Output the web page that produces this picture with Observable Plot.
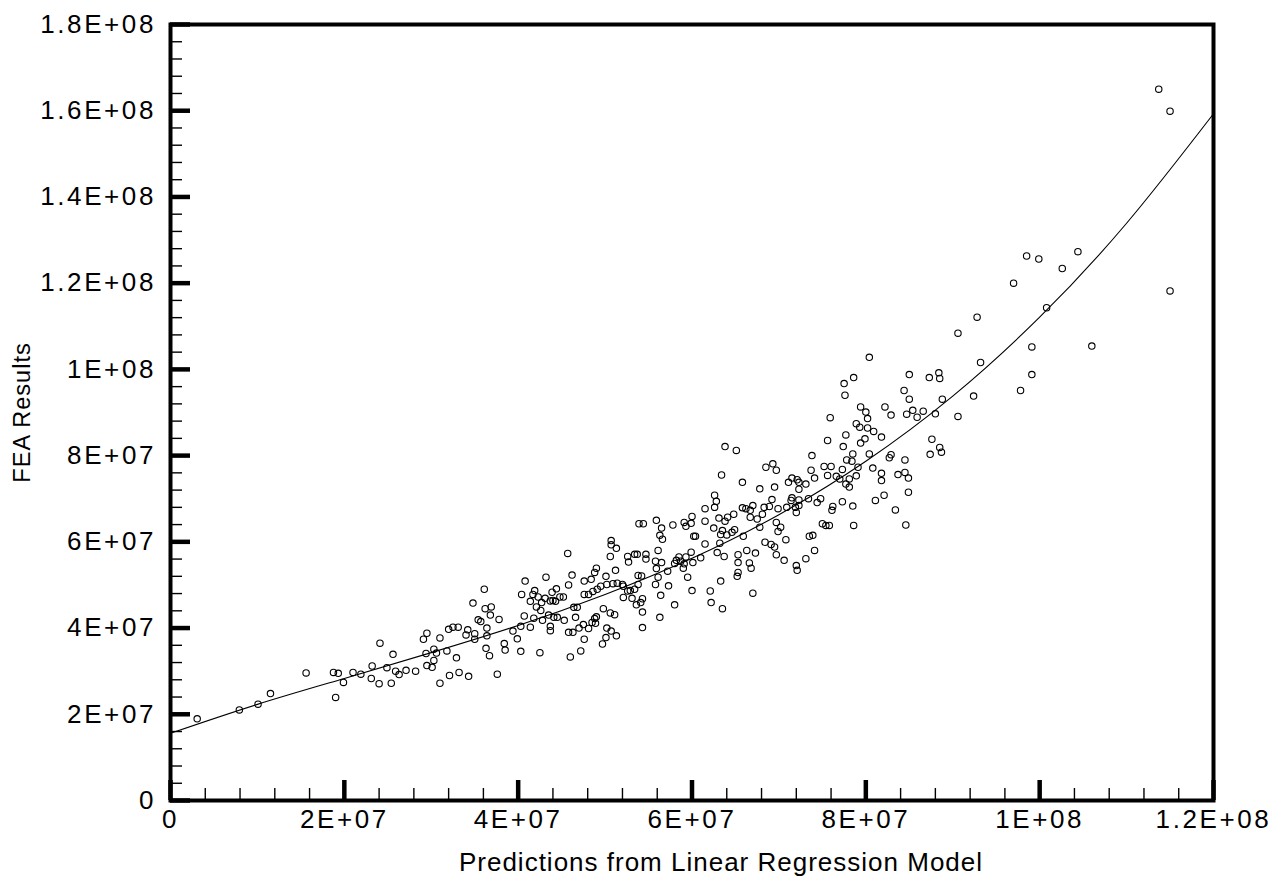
<!DOCTYPE html>
<html><head><meta charset="utf-8">
<script src="https://cdn.jsdelivr.net/npm/d3@7"></script>
<script src="https://cdn.jsdelivr.net/npm/@observablehq/plot@0.6"></script>
<style>
html,body{margin:0;padding:0;background:#fff;}
g[aria-label="x-axis tick label"] text, g[aria-label="y-axis tick label"] text {letter-spacing:2.6px;}
g[aria-label="text"] text {letter-spacing:1px;}
</style></head><body><div id="chart"></div>
<script>
// Values in millions (×1e6)
const pointsM = [
[3.07,18.95],[7.92,21.0],[10.07,22.35],[11.5,24.8],[15.6,29.6],[18.75,29.7],[19.3,29.5],[19.0,23.9],[19.9,27.4],[21.0,29.7],[21.9,29.3],[23.2,31.2],[23.1,28.3],[24.1,36.5],[24.0,27.1],[24.9,30.8],[25.6,33.9],[25.4,27.2],[25.9,30.0],[26.3,29.2],
[27.1,30.2],[28.2,30.0],[29.5,38.8],[29.1,37.4],[31.0,37.7],[30.3,35.1],[29.4,34.1],[30.6,34.2],[30.3,32.5],[29.5,31.3],[30.1,30.9],[31.8,34.7],[32.9,33.1],[31.0,27.2],[32.1,29.0],[33.2,29.7],[34.3,28.8],[32.0,39.7],[32.5,40.2],[33.1,40.2],[34.2,39.6],[34.0,38.4],[35.0,38.7],[35.0,37.4],[34.8,45.8],[36.1,49.0],[36.2,44.5],[36.9,44.9],[36.8,43.0],[35.4,41.9],[35.7,41.5],[37.8,42.0],[36.4,40.0],[36.4,38.2],[36.3,35.3],[36.7,33.6],[37.6,29.3],[38.4,36.4],[38.5,34.9],[39.4,39.3],[39.9,37.5],[40.3,40.4],[40.3,34.6],[40.7,42.8],[41.4,40.2],[41.8,42.3],[42.5,34.3],[40.8,50.9],[40.4,47.8],[41.9,48.7],[41.7,47.8],[41.4,46.2],[42.3,47.2],[43.1,46.9],[42.1,44.9],[42.7,45.9],[42.6,44.1],[42.8,41.8],[43.2,51.8],[43.9,48.3],[44.4,49.1],[43.7,46.3],[44.0,46.4],[44.3,46.2],[43.5,43.0],[44.1,42.5],[43.7,40.4],[43.7,39.4],[44.5,42.5],[44.8,47.2],
[45.7,57.3],[46.2,52.3],[45.8,50.0],[45.2,47.2],[45.3,41.8],[46.6,42.5],[46.4,44.8],[46.8,44.8],[45.8,39.0],[46.3,39.0],[46.0,33.3],[47.2,34.7],[47.6,37.4],[47.0,40.0],[47.5,40.8],[48.1,39.9],[48.5,41.3],[48.8,42.2],[49.0,42.6],[48.9,41.1],[49.8,44.5],[50.6,43.5],[51.1,43.1],[50.2,40.0],[50.7,39.3],[51.3,38.2],[50.1,37.8],[49.7,36.3],[47.6,47.8],[48.1,47.8],[47.6,50.9],[48.4,51.3],[48.8,52.9],[49.0,53.9],[48.6,48.5],[49.1,49.0],[49.5,49.7],[50.1,52.0],[50.2,50.1],[50.9,50.3],[51.2,53.4],[50.7,60.3],[50.7,59.3],[51.3,58.5],[50.6,56.6],[51.4,50.4],[52.0,50.1],[52.1,49.7],[52.6,48.6],[52.9,48.7],[52.1,47.1],[53.1,46.9],[52.7,55.3],[52.6,56.6],[53.4,57.1],[53.7,57.1],[54.7,57.1],[54.7,56.0],[53.9,64.2],[54.4,64.2],[53.4,49.0],[53.8,50.1],[53.8,52.2],[54.2,52.1],[53.6,45.4],[54.3,46.8],[54.1,45.9],[54.3,43.7],[54.3,40.1],[55.8,55.5],[56.1,58.0],[55.9,65.0],[56.5,63.2],[56.3,61.5],[56.6,60.6],[57.8,63.9],[56.5,55.2],[55.9,53.8],[56.1,51.8],[55.8,50.1],[57.2,53.2],[57.3,49.8],[56.4,47.6],[58.0,45.4],[56.3,42.5],[58.0,55.0],[58.2,55.7],[58.5,56.5],[58.7,55.5],[59.0,53.9],[59.1,54.9],[59.3,56.5],[59.1,64.5],[59.3,63.6],[59.9,64.3],[60.0,65.9],[60.2,61.3],[60.4,61.3],[59.9,57.6],[60.1,55.2],[59.5,51.8],[60.0,48.7],[61.0,56.3],[61.5,59.5],[61.5,64.8],[61.5,67.7],[62.6,70.8],[62.8,69.4],[62.6,68.0],[63.1,65.5],[62.5,63.2],[63.5,62.6],[63.8,64.8],[63.3,61.7],[63.2,59.7],[62.9,57.5],[63.7,56.6],[63.3,50.9],[62.1,48.6],[62.2,45.9],[63.5,44.5],
[63.8,82.1],[65.1,81.2],[63.4,75.5],[65.8,73.8],[65.8,67.9],[66.2,67.7],[67.0,68.4],[66.7,67.3],[64.8,66.4],[64.1,65.7],[67.8,72.3],
[78.6,98.1],[77.5,96.7],[77.6,94.0],[79.4,91.3],[80.0,90.1],[80.2,88.6],[82.2,91.3],[75.9,88.8],[78.9,87.4],[79.3,86.6],[80.2,86.4],[80.9,85.6],[81.8,84.3],[77.7,84.8],[75.6,83.5],[79.9,83.9],[79.4,82.9],[77.4,82.1],[78.5,80.4],[80.4,80.4],[73.8,80.0],[77.8,79.0],[78.4,78.7],[79.1,77.3],[80.8,77.1],[77.3,76.8],[76.6,75.2],[77.0,74.6],[75.2,77.5],[76.0,77.5],[75.6,75.4],[77.7,73.4],[78.1,72.7],[78.1,74.6],[78.9,75.3],[81.8,75.9],[81.8,74.2],[82.1,70.8],[81.1,69.6],[78.5,68.3],[78.6,63.8],[77.3,69.3],[76.2,68.2],[76.1,67.3],[74.8,70.0],[74.4,69.1],[73.4,70.0],[73.7,76.6],[74.1,74.8],[73.1,73.4],[72.3,73.8],[72.1,74.4],[71.1,73.8],[71.5,74.8],[72.3,72.2],[71.5,70.2],[71.4,69.6],[72.3,69.7],[72.3,68.4],[71.9,68.0],[72.0,66.8],[68.5,77.3],[69.3,78.1],[69.7,76.6],[69.5,72.7],[69.2,69.8],[68.9,68.2],[68.3,68.0],[69.9,67.7],[68.1,66.4],[66.7,65.7],[67.5,65.3],[70.9,68.0],[69.7,64.5],[70.2,63.4],[69.9,62.4],[67.8,63.4],[70.8,60.5],[68.4,59.9],[69.1,59.4],[69.5,58.8],[69.7,57.0],[67.3,57.4],[66.3,58.0],[65.3,57.0],[65.3,55.2],[66.6,55.1],[66.8,53.9],[65.3,52.9],[65.2,52.0],[67.0,48.1],[70.6,55.7],[72.0,54.5],[72.1,53.4],[73.1,56.1],[74.1,58.0],[73.5,61.3],[73.9,61.5],[75.0,64.2],[75.4,63.8],[75.8,63.8],[64.0,61.6],[64.6,62.2],[64.9,62.8],[65.9,61.3],
[92.8,112.1],[90.6,108.4],[93.2,101.6],[85.0,98.8],[87.3,98.1],[88.4,99.2],[88.5,97.9],[92.4,93.8],[88.8,93.1],[84.4,95.1],[85.0,93.1],[82.9,89.4],[84.7,89.6],[85.4,90.5],[86.6,90.3],[85.9,88.9],[88.0,89.7],[90.6,89.1],[80.4,102.8],[87.6,83.8],[88.5,81.9],[88.7,80.8],[87.4,80.3],[84.5,79.0],[82.9,80.2],[82.7,79.5],[83.7,75.6],[84.5,76.1],[84.9,74.8],[84.9,71.5],[83.4,67.4],[84.6,63.9],
[113.7,165.0],[115.0,159.9],[115.0,118.2],[98.5,126.3],[99.9,125.6],[104.4,127.3],[102.6,123.4],[97.0,120.0],[100.8,114.3],[99.1,105.2],[106.0,105.4],[99.1,98.8],[97.8,95.1]
];
// Fitted curve (millions)
const curveXM = [0, 10, 20, 30, 40, 50, 60, 70, 80, 90, 100, 110, 120];
const curveYM = [15.6, 22.3, 28.3, 34.3, 40.6, 47.8, 56.2, 66.3, 78.7, 93.8, 112.1, 133.9, 159.3];

const xTicks = [0, 2e7, 4e7, 6e7, 8e7, 1e8, 1.2e8];
const xTickLabels = ["0", "2E+07", "4E+07", "6E+07", "8E+07", "1E+08", "1.2E+08"];
const yTicks = [0, 2e7, 4e7, 6e7, 8e7, 1e8, 1.2e8, 1.4e8, 1.6e8, 1.8e8];
const yTickLabels = ["0", "2E+07", "4E+07", "6E+07", "8E+07", "1E+08", "1.2E+08", "1.4E+08", "1.6E+08", "1.8E+08"];
const xMinor = d3.range(0, 1.2e8 + 1, 4e6).filter(v => !xTicks.includes(v));
const yMinor = d3.range(0, 1.8e8 + 1, 4e6).filter(v => !yTicks.includes(v));
const xTitle = "Predictions from Linear Regression Model";
const yTitle = "FEA Results";

const points = pointsM.map(([x, y]) => ({x: x * 1e6, y: y * 1e6}));
const curve = curveXM.map((x, i) => ({x: x * 1e6, y: curveYM[i] * 1e6}));

const W = 1279, H = 888, mL = 170, mR = 66, mT = 24, mB = 88;
const fw = W - mL - mR, fh = H - mT - mB;

const chart = Plot.plot({
  width: W, height: H,
  marginLeft: mL, marginRight: mR, marginTop: mT, marginBottom: mB,
  x: {domain: [0, 1.2e8], axis: null},
  y: {domain: [0, 1.8e8], axis: null},
  style: {fontFamily: "'Liberation Sans', Arial, sans-serif", background: "white", color: "black"},
  marks: [
    Plot.line(curve, {x: "x", y: "y", curve: "natural", stroke: "black", strokeWidth: 1.1}),
    Plot.dot(points, {x: "x", y: "y", r: 3.2, stroke: "black", strokeWidth: 1.1, fill: "none"}),
    Plot.ruleX(xMinor, {x: d => d, insetTop: fh - 12, stroke: "black", strokeWidth: 1.4}),
    Plot.ruleX(xTicks, {x: d => d, insetTop: fh - 20, stroke: "black", strokeWidth: 4.5}),
    Plot.ruleY(yMinor, {y: d => d, insetRight: fw - 12, stroke: "black", strokeWidth: 1.4}),
    Plot.ruleY(yTicks, {y: d => d, insetRight: fw - 20, stroke: "black", strokeWidth: 4.5}),
    Plot.frame({stroke: "black", strokeWidth: 4}),
    Plot.axisX(xTicks, {anchor: "bottom", tickSize: 0, tickPadding: 9, fontSize: 26, label: null,
      tickFormat: d => xTickLabels[xTicks.indexOf(d)]}),
    Plot.axisY(yTicks, {anchor: "left", tickSize: 0, tickPadding: 14.5, fontSize: 26, label: null,
      tickFormat: d => yTickLabels[yTicks.indexOf(d)]}),
    Plot.text([xTitle], {text: d => d, frameAnchor: "bottom", textAnchor: "middle", lineAnchor: "middle", dy: 62, dx: 29, fontSize: 26}),
    Plot.text([yTitle], {text: d => d, frameAnchor: "left", textAnchor: "middle", lineAnchor: "middle", dx: -148, rotate: -90, fontSize: 23.5})
  ]
});
document.getElementById("chart").appendChild(chart);
</script></body></html>
